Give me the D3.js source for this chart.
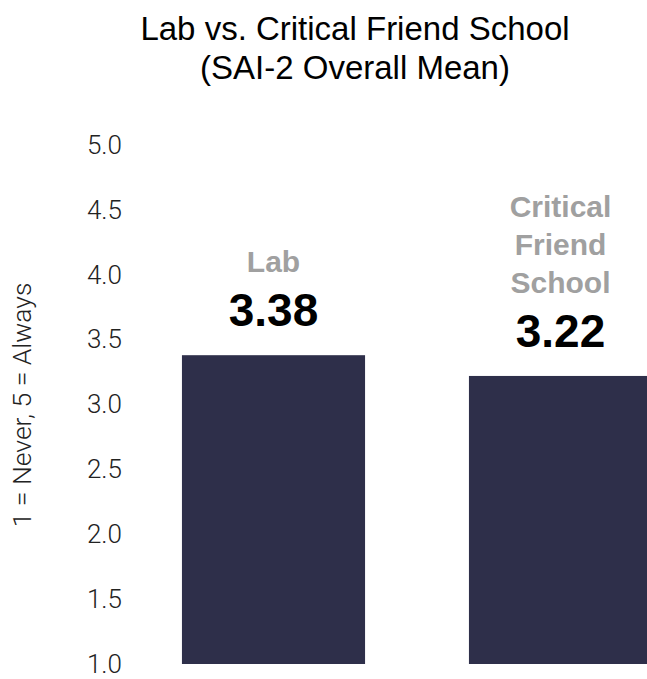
<!DOCTYPE html>
<html>
<head>
<meta charset="utf-8">
<script src="https://cdn.jsdelivr.net/npm/d3@7"></script>
<style>
  html, body { margin: 0; padding: 0; background: #fff; }
  svg { display: block; font-family: "Liberation Sans", Arial, Helvetica, sans-serif; }
</style>
</head>
<body>
<svg id="chart" width="647" height="679"></svg>
<script>
// Groups compared and their SAI-2 overall mean scores
const groups = ["Lab", "Critical Friend School"];
const groupLines = [["Lab"], ["Critical", "Friend", "School"]];
const means = [3.38, 3.22];
const yTicks = [1.0, 1.5, 2.0, 2.5, 3.0, 3.5, 4.0, 4.5, 5.0];

const svg = d3.select("#chart");

const x = d3.scaleBand()
  .domain(groups)
  .range([130, 704])
  .paddingInner(0.362)
  .paddingOuter(0.181);

const y = d3.scaleLinear()
  .domain([1, 5])
  .range([664, 145]);

const lightFont = "Roboto, 'Liberation Sans', Arial, sans-serif";

// Title
const title = svg.append("text")
  .attr("text-anchor", "middle")
  .attr("font-size", 33)
  .attr("fill", "#000");
title.append("tspan").attr("x", 355).attr("y", 40).text("Lab vs. Critical Friend School");
title.append("tspan").attr("x", 355).attr("y", 79).text("(SAI-2 Overall Mean)");

// Y axis (labels only)
const yAxis = d3.axisLeft(y)
  .tickValues(yTicks)
  .tickFormat(d3.format(".1f"))
  .tickSize(0)
  .tickPadding(0);

const gy = svg.append("g")
  .attr("transform", "translate(122,0)")
  .call(yAxis);
gy.select(".domain").remove();
gy.selectAll("text")
  .attr("font-size", 26)
  .attr("font-weight", 300)
  .attr("fill", "#222")
  .attr("font-family", lightFont);

// Y axis title
svg.append("text")
  .attr("transform", "translate(31,405) rotate(-90)")
  .attr("text-anchor", "middle")
  .attr("font-family", lightFont)
  .attr("font-weight", 300)
  .attr("font-size", 26.5)
  .attr("fill", "#222")
  .text("1 = Never, 5 = Always");

// Bars
svg.selectAll("rect.bar")
  .data(groups)
  .join("rect")
  .attr("class", "bar")
  .attr("x", d => x(d))
  .attr("width", x.bandwidth())
  .attr("y", (d, i) => y(means[i]))
  .attr("height", (d, i) => y(1) - y(means[i]))
  .attr("fill", "#2e2f4a");

// Value labels above bars
svg.selectAll("text.value")
  .data(groups)
  .join("text")
  .attr("class", "value")
  .attr("x", d => x(d) + x.bandwidth() / 2)
  .attr("y", (d, i) => y(means[i]) - 29)
  .attr("text-anchor", "middle")
  .attr("font-size", 46)
  .attr("font-weight", "bold")
  .attr("fill", "#000")
  .text((d, i) => means[i].toFixed(2));

// Group names stacked above the values
groups.forEach((g, i) => {
  const lines = groupLines[i];
  const baseY = y(means[i]) - 29 - 54;
  const t = svg.append("text")
    .attr("text-anchor", "middle")
    .attr("font-size", 30)
    .attr("font-weight", "bold")
    .attr("fill", "#a0a0a0");
  lines.forEach((ln, k) => {
    t.append("tspan")
      .attr("x", x(g) + x.bandwidth() / 2)
      .attr("y", baseY - (lines.length - 1 - k) * 38)
      .text(ln);
  });
});
</script>
</body>
</html>
